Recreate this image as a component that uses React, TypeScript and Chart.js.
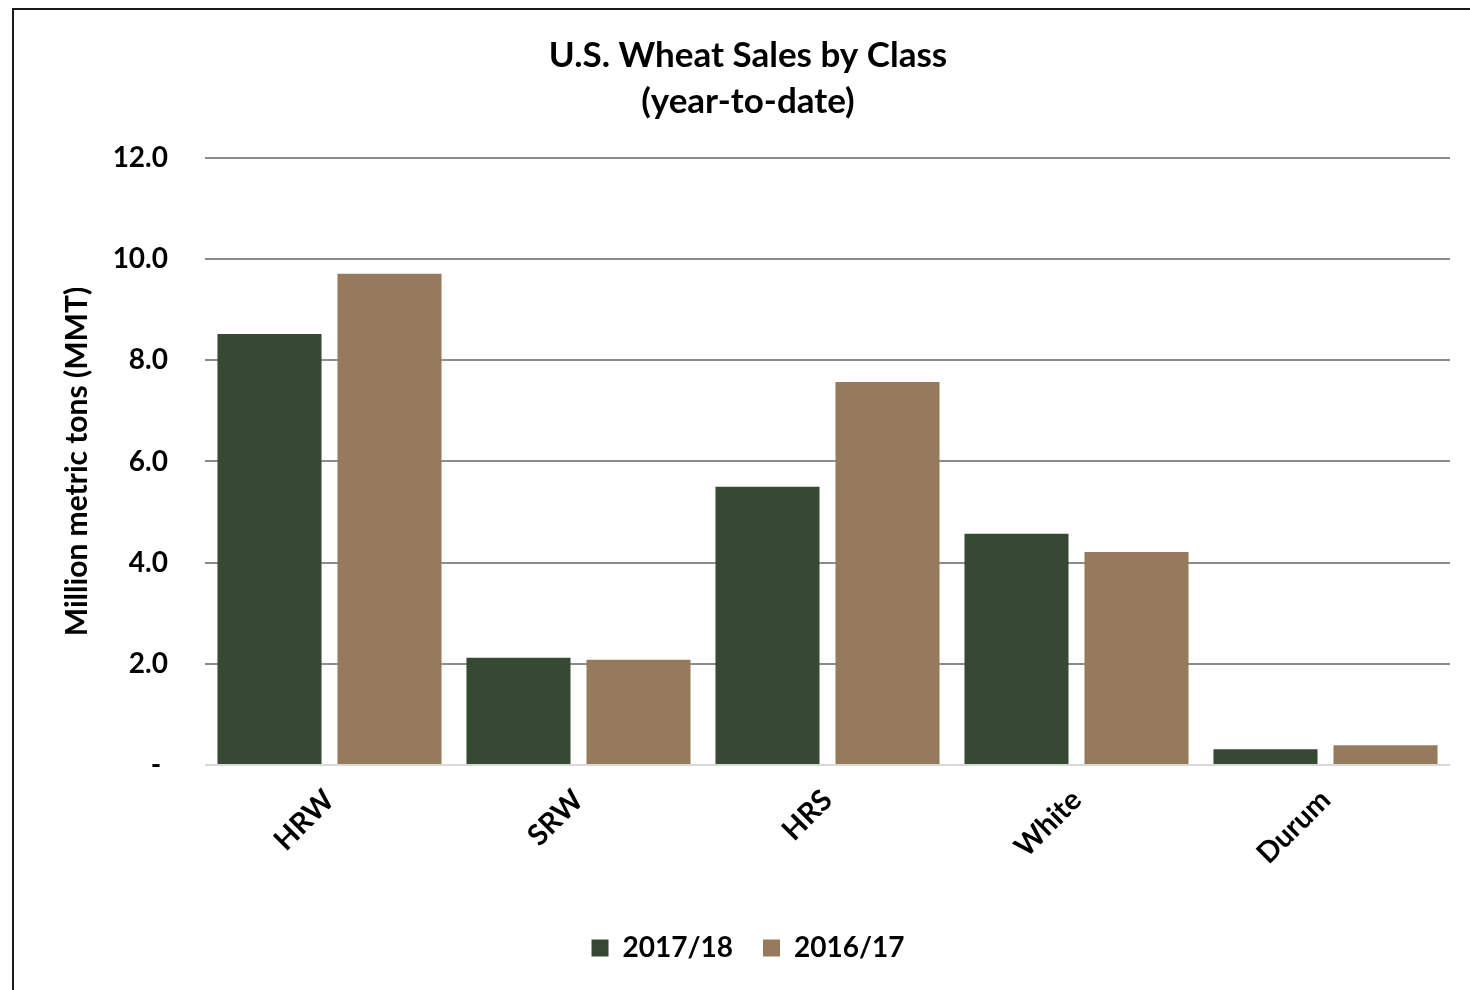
import React, { useEffect, useRef } from "react";
import { Chart, registerables } from "chart.js";

Chart.register(...registerables);

const categories = ["HRW", "SRW", "HRS", "White", "Durum"];
const seriesLabels = ["2017/18", "2016/17"];
const sales2017 = [8.52, 2.12, 5.5, 4.57, 0.31];
const sales2016 = [9.71, 2.08, 7.57, 4.21, 0.39];
const yTickValues = [0, 2, 4, 6, 8, 10, 12];
const titleLines = ["U.S. Wheat Sales by Class", "(year-to-date)"];
const yAxisTitle = "Million metric tons (MMT)";

const GREEN = "#364932";
const BROWN = "#967a5c";
const FONT = "Lato, 'Open Sans', sans-serif";

export default function App() {
  const ref = useRef<HTMLCanvasElement | null>(null);

  useEffect(() => {
    if (!ref.current) return;
    const chart = new Chart(ref.current, {
      type: "bar",
      data: {
        labels: categories,
        datasets: [
          {
            label: seriesLabels[0],
            data: sales2017,
            backgroundColor: GREEN,
            categoryPercentage: 0.964,
            barPercentage: 0.867,
          },
          {
            label: seriesLabels[1],
            data: sales2016,
            backgroundColor: BROWN,
            categoryPercentage: 0.964,
            barPercentage: 0.867,
          },
        ],
      },
      options: {
        responsive: false,
        animation: false,
        devicePixelRatio: 1,
        layout: { padding: { top: 0, left: 46, right: 20, bottom: 18 } },
        plugins: {
          tooltip: { enabled: false },
          title: {
            display: true,
            text: titleLines,
            color: "#000",
            font: { family: FONT, size: 35, weight: "bold", lineHeight: 1.314 },
            padding: { top: 33, bottom: 33 },
          },
          legend: {
            position: "bottom",
            labels: {
              color: "#000",
              font: { family: FONT, size: 28, weight: "bold" },
              boxWidth: 17,
              boxHeight: 17,
              padding: 30,
            },
          },
        },
        scales: {
          x: {
            grid: { display: false },
            border: { display: false },
            ticks: {
              color: "#000",
              padding: 10,
              font: { family: FONT, size: 29, weight: "bold" },
              minRotation: 45,
              maxRotation: 45,
            },
            afterFit: (s: any) => {
              s.height = 139;
            },
          },
          y: {
            min: 0,
            max: 12,
            afterBuildTicks: (s: any) => {
              s.ticks = yTickValues.map((v) => ({ value: v }));
            },
            grid: {
              drawTicks: false,
              lineWidth: 2,
              color: (c: any) => (c.tick && c.tick.value === 0 ? "#d9d9d9" : "#8c8c8c"),
            },
            border: { display: false },
            ticks: {
              color: "#000",
              padding: 37,
              font: { family: FONT, size: 28, weight: "bold" },
              callback: (v: any) => (Number(v) === 0 ? "- " : Number(v).toFixed(1)),
            },
            title: {
              display: true,
              text: yAxisTitle,
              color: "#000",
              font: { family: FONT, size: 30, weight: "bold" },
              padding: { top: 13, bottom: 0 },
            },
            afterFit: (s: any) => {
              s.width = 159;
            },
          },
        },
      },
    });
    return () => chart.destroy();
  }, []);

  return (
    <div
      style={{
        position: "absolute",
        left: 0,
        top: 0,
        width: 1470,
        height: 990,
        overflow: "hidden",
        background: "#fff",
      }}
    >
      <div
        style={{
          position: "absolute",
          left: 12,
          top: 8,
          width: 1500,
          height: 1020,
          border: "2px solid #1a1a1a",
          boxSizing: "border-box",
        }}
      />
      <canvas
        ref={ref}
        width={1470}
        height={990}
        style={{ position: "absolute", left: 0, top: 0, width: 1470, height: 990 }}
      />
    </div>
  );
}
